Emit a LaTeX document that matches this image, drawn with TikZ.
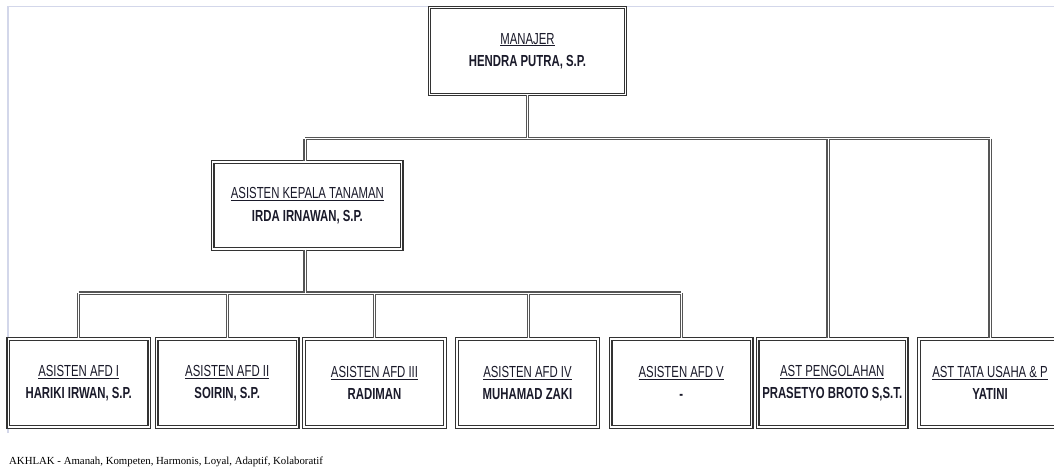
\documentclass[tikz,border=0pt]{standalone}
\usepackage{fontspec}
\newfontfamily\nar[FakeStretch=0.71]{Liberation Sans}
\newfontfamily\ser{Liberation Serif}
\definecolor{frame}{HTML}{D3D7EA}
\definecolor{boxline}{HTML}{333333}
\definecolor{conn}{HTML}{555555}
\definecolor{ink}{HTML}{1A1A2A}
\newcommand{\ttl}[1]{\underline{#1}}
\tikzset{
  orgbox/.style={draw=boxline, line width=1.3pt, double=white, double distance=1.1pt,
    fill=white, align=center, text=ink, inner sep=0pt,
    font=\nar\fontsize{16}{22.3}\selectfont},
  smallbox/.style={orgbox, minimum width=141pt, minimum height=88pt},
  conline/.style={draw=conn, line width=1.1pt, double=white, double distance=0.9pt},
}
\begin{document}
\begin{tikzpicture}[x=1pt,y=-1pt]
\useasboundingbox (0,0) rectangle (1054,469);
% faint frame
\draw[frame, line width=1.5pt] (8,433) -- (8,6.5) -- (1054,6.5);

% junction coordinates
\coordinate (j0) at (527.7,138.5);
\coordinate (jL) at (305,138.5);
\coordinate (jP) at (828,138.5);
\coordinate (jT) at (990,138.5);
\coordinate (k0) at (305,293);
\coordinate (k1) at (78.7,293);
\coordinate (k2) at (227.7,293);
\coordinate (k3) at (374.5,293);
\coordinate (k4) at (528.5,293);
\coordinate (k5) at (681.2,293);

% boxes
\node[orgbox, minimum width=196pt, minimum height=87pt] (man) at (527.5,51)
  {\ttl{MANAJER}\\\bfseries HENDRA PUTRA, S.P.};
\node[orgbox, minimum width=189pt, minimum height=87pt] (kt) at (307.4,205.5)
  {\ttl{ASISTEN KEPALA TANAMAN}\\\bfseries IRDA IRNAWAN, S.P.};
\node[smallbox] (a1) at (78.7,383) {\ttl{ASISTEN AFD I}\\\bfseries HARIKI IRWAN, S.P.};
\node[smallbox] (a2) at (227.2,383) {\ttl{ASISTEN AFD II}\\\bfseries SOIRIN, S.P.};
\node[smallbox] (a3) at (374.5,383) {\ttl{ASISTEN AFD III}\\\bfseries RADIMAN};
\node[smallbox] (a4) at (527.5,383) {\ttl{ASISTEN AFD IV}\\\bfseries MUHAMAD ZAKI};
\node[smallbox] (a5) at (681.2,383) {\ttl{ASISTEN AFD V}\\\bfseries -};
\node[smallbox, minimum width=149pt] (peng) at (832.2,383) {\ttl{AST PENGOLAHAN}\\\bfseries PRASETYO BROTO S,S.T.};
\node[smallbox, minimum width=142pt] (tu) at (990,383) {\ttl{AST TATA USAHA \& P}\\\bfseries YATINI};

% connectors as one path so junctions merge
\draw[conline]
  (man.south -| j0) -- (j0)
  (jL) -- (jT)
  (jL) -- (kt.north -| jL)
  (jP) -- (peng.north -| jP)
  (jT) -- (tu.north)
  (kt.south -| k0) -- (k0)
  (k1) -- (k5)
  (k1) -- (a1.north)
  (k2) -- (a2.north -| k2)
  (k3) -- (a3.north)
  (k4) -- (a4.north -| k4)
  (k5) -- (a5.north);

% footer
\node[anchor=west, inner sep=0pt, font=\ser\fontsize{10.8}{12}\selectfont, text=black] (akh) at (9,462)
  {AKHLAK - Amanah, Kompeten, Harmonis, Loyal, Adaptif, Kolaboratif};
\end{tikzpicture}
\end{document}
